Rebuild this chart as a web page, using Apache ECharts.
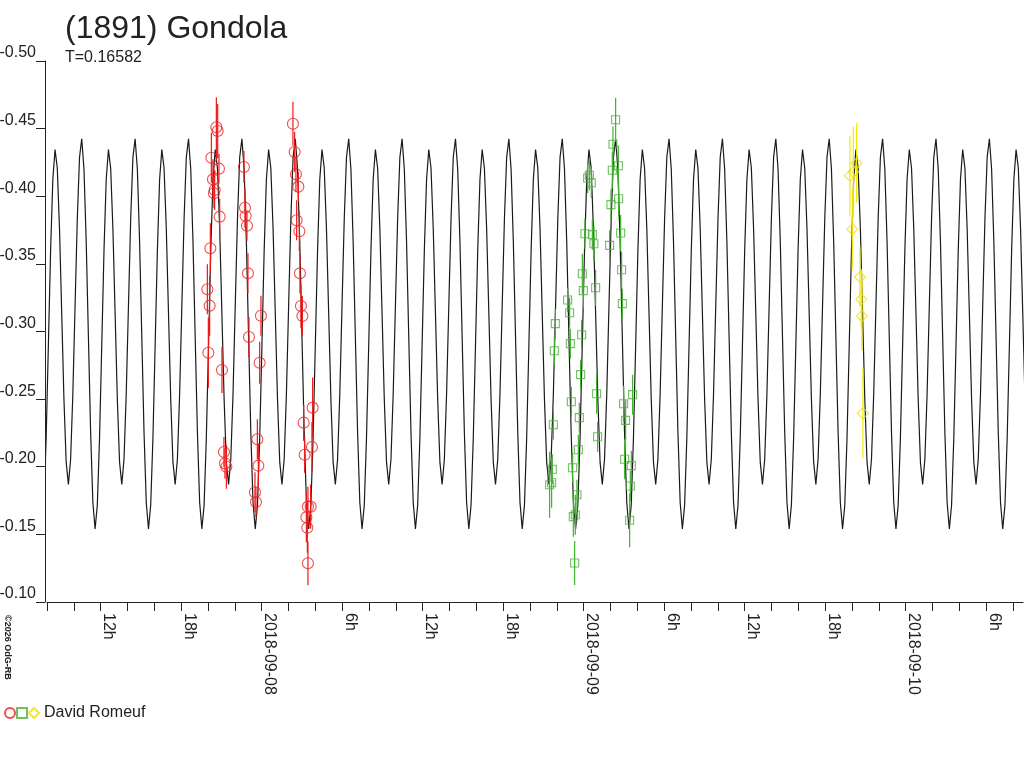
<!DOCTYPE html>
<html>
<head>
<meta charset="utf-8">
<style>
  html, body { margin: 0; padding: 0; background: #fff; }
  #chart { width: 1024px; height: 768px; }
</style>
<script src="https://cdn.jsdelivr.net/npm/echarts@6/dist/echarts.min.js"></script>
</head>
<body>
<div id="chart"></div>
<script>
// ---- data (time in hours since 2018-09-07 00:00 UT, values in mag) ----
const titleText = '(1891) Gondola';
const periodText = 'T=0.16582';
const periodDays = 0.16582;
const peakEpochHour = 8.60;           // time of one model maximum
// one period of the model curve, 24 equally spaced phase samples
const modelShape = [-0.4345, -0.4209, -0.3763, -0.3133, -0.2498, -0.2034, -0.1870, -0.2055,
                    -0.2538, -0.3190, -0.3832, -0.4287, -0.4425, -0.4201, -0.3667, -0.2957,
                    -0.2252, -0.1736, -0.1540, -0.1716, -0.2212, -0.2900, -0.3598, -0.4124];
const dayLabels = ['2018-09-07', '2018-09-08', '2018-09-09', '2018-09-10'];
const xMin = 8, xMax = 80.75, xStep = 2, xLastTick = 80;
const yMin = -0.50, yMax = -0.10, yStep = 0.05;

const redTime = [20.624, 20.721, 20.251, 20.817, 20.370, 20.497, 20.445, 20.870, 20.176, 19.953,
                 20.124, 20.027, 21.041, 21.190, 21.265, 21.369, 22.681, 22.755, 22.807, 22.904,
                 22.979, 23.948, 23.053, 23.851, 23.680, 23.754, 23.501, 23.575, 26.333, 26.460,
                 26.557, 26.735, 26.609, 26.810, 26.855, 26.929, 27.034, 27.801, 27.130, 27.749,
                 27.205, 27.652, 27.451, 27.332, 27.406, 27.451];
const redMag  = [-0.4510, -0.4482, -0.4285, -0.4204, -0.4125, -0.4046, -0.4022, -0.3849, -0.3615, -0.3312,
                 -0.3191, -0.2843, -0.2715, -0.2109, -0.2025, -0.2000, -0.4216, -0.3915, -0.3854, -0.3782,
                 -0.3430, -0.3117, -0.2959, -0.2769, -0.2203, -0.2008, -0.1811, -0.1739, -0.4536, -0.4327,
                 -0.4162, -0.4071, -0.3822, -0.3741, -0.3430, -0.3189, -0.3115, -0.2437, -0.2326, -0.2146,
                 -0.2089, -0.1705, -0.1705, -0.1626, -0.1549, -0.1286];
const redErr  = [0.0222, 0.0200, 0.0185, 0.0111, 0.0148, 0.0148, 0.0111, 0.0133, 0.0185, 0.0185,
                 0.0222, 0.0259, 0.0170, 0.0111, 0.0111, 0.0163, 0.0118, 0.0148, 0.0111, 0.0111,
                 0.0148, 0.0148, 0.0148, 0.0155, 0.0148, 0.0163, 0.0148, 0.0111, 0.0163, 0.0148,
                 0.0133, 0.0111, 0.0148, 0.0148, 0.0148, 0.0163, 0.0148, 0.0222, 0.0133, 0.0185,
                 0.0133, 0.0163, 0.0148, 0.0185, 0.0185, 0.0163];

const greenTime = [50.385, 50.184, 50.586, 50.139, 48.574, 48.298, 50.609, 50.035, 48.097, 48.649,
                   48.768, 49.938, 50.758, 47.903, 50.832, 47.977, 48.894, 46.807, 46.956, 50.884,
                   45.891, 47.851, 45.816, 47.008, 47.776, 48.969, 47.083, 50.981, 51.652, 47.679,
                   45.742, 51.130, 49.043, 47.605, 45.667, 47.180, 51.056, 51.555, 45.466, 51.481,
                   47.500, 47.381, 47.232, 51.429, 47.329, 48.425, 45.615];
const greenMag  = [-0.4566, -0.4384, -0.4226, -0.4192, -0.4100, -0.4135, -0.3982, -0.3938, -0.3723, -0.3716,
                   -0.3649, -0.3637, -0.3728, -0.3427, -0.3457, -0.3302, -0.3324, -0.3233, -0.3139, -0.3206,
                   -0.3058, -0.2976, -0.2858, -0.2910, -0.2681, -0.2540, -0.2481, -0.2466, -0.2533, -0.2363,
                   -0.2311, -0.2343, -0.2222, -0.2126, -0.1981, -0.1993, -0.2055, -0.2008, -0.1867, -0.1858,
                   -0.1793, -0.1645, -0.1631, -0.1604, -0.1288, -0.4155, -0.1882];
const greenErr  = [0.0163, 0.0133, 0.0148, 0.0133, 0.0111, 0.0111, 0.0133, 0.0111, 0.0111, 0.0111,
                   0.0133, 0.0111, 0.0133, 0.0148, 0.0133, 0.0133, 0.0133, 0.0089, 0.0111, 0.0111,
                   0.0111, 0.0111, 0.0111, 0.0111, 0.0111, 0.0148, 0.0111, 0.0133, 0.0148, 0.0111,
                   0.0111, 0.0148, 0.0111, 0.0111, 0.0111, 0.0111, 0.0148, 0.0111, 0.0244, 0.0111,
                   0.0111, 0.0148, 0.0148, 0.0200, 0.0163, 0.0111, 0.0185];

const yellowTime = [68.348, 68.102, 67.849, 68.027, 68.594, 68.698, 68.743, 68.818];
const yellowMag  = [-0.4244, -0.4179, -0.4152, -0.3756, -0.3403, -0.3238, -0.3115, -0.2395];
const yellowErr  = [0.0296, 0.0333, 0.0296, 0.0296, 0.0222, 0.0222, 0.0259, 0.0333];

const observer = 'David Romeuf';
const copyrightText = '©2026 OdG-RB';

// ---- build ----
const periodHours = periodDays * 24;
const modelData = [];
for (let n = -3; n < 22; n++) {
  for (let k = 0; k < modelShape.length; k++) {
    const h = peakEpochHour + (n + k / modelShape.length) * periodHours;
    if (h >= xMin - 1 && h <= xMax + 1) modelData.push([h, modelShape[k]]);
  }
}
const xTicks = [];
for (let v = xMin; v <= xLastTick; v += xStep) xTicks.push(v);

function zip(t, m, e) { return t.map((v, i) => [v, m[i], e[i]]); }
const FONT = '"Liberation Sans", Arial, Helvetica, sans-serif';
const TXT = '#222';

function errSeries(data, color) {
  return {
    type: 'custom',
    silent: true,
    z: 3,
    encode: { x: 0, y: 1 },
    data: data,
    renderItem: function (params, api) {
      const x = api.value(0), y = api.value(1), e = api.value(2);
      const p1 = api.coord([x, y - e]);
      const p2 = api.coord([x, y + e]);
      return { type: 'line', shape: { x1: p1[0], y1: p1[1], x2: p2[0], y2: p2[1] },
               style: { stroke: color, lineWidth: 1.2 } };
    }
  };
}
function ptSeries(name, data, color, symbol, size) {
  return {
    name: name, type: 'scatter', symbol: symbol, symbolSize: size, z: 4, silent: true,
    data: data.map(d => [d[0], d[1]]),
    itemStyle: { color: 'rgba(0,0,0,0)', borderColor: color, borderWidth: 1.1 }
  };
}

const redData = zip(redTime, redMag, redErr);
const greenData = zip(greenTime, greenMag, greenErr);
const yellowData = zip(yellowTime, yellowMag, yellowErr);

const chart = echarts.init(document.getElementById('chart'), null, { renderer: 'canvas' });
chart.setOption({
  animation: false,
  backgroundColor: '#fff',
  textStyle: { fontFamily: FONT },
  title: [
    { text: titleText, left: 65, top: 13, padding: 0,
      textStyle: { fontFamily: FONT, fontSize: 32, fontWeight: 'normal', color: TXT } },
    { text: periodText, left: 65, top: 50, padding: 0,
      textStyle: { fontFamily: FONT, fontSize: 16, fontWeight: 'normal', color: TXT } }
  ],
  legend: {
    left: 4, top: 705, padding: 0,
    itemWidth: 10, itemHeight: 10, itemGap: 0,
    data: ['r', 'g', observer],
    formatter: function (n) { return n === observer ? n : ''; },
    textStyle: { fontFamily: FONT, fontSize: 16, color: TXT },
    selectedMode: false
  },
  graphic: [
    { type: 'text', x: 3, y: 615, rotation: -Math.PI / 2,
      style: { text: copyrightText, font: 'bold 9px ' + FONT, fill: TXT,
               align: 'left', verticalAlign: 'bottom' } }
  ],
  grid: { left: 47, right: 1, top: 61, bottom: 166, containLabel: false, outerBoundsMode: 'none' },
  xAxis: {
    type: 'value', min: xMin, max: xMax, interval: xStep,
    axisLine: { show: true, lineStyle: { color: TXT, width: 1 } },
    axisTick: { show: true, length: 9, lineStyle: { color: TXT }, customValues: xTicks },
    splitLine: { show: false },
    axisLabel: {
      rotate: -90, margin: 11, fontFamily: FONT, fontSize: 16, color: TXT,
      verticalAlign: 'bottom',
      formatter: function (v) {
        if (Math.abs(v % 6) > 1e-6) return '';
        const hr = Math.round(v) % 24;
        if (hr === 0) return dayLabels[Math.round(v / 24)];
        return hr + 'h';
      }
    }
  },
  yAxis: {
    type: 'value', min: yMin, max: yMax, interval: yStep, inverse: true, offset: 2,
    axisLine: { show: true, lineStyle: { color: TXT, width: 1 } },
    axisTick: { show: true, length: 9, lineStyle: { color: TXT } },
    splitLine: { show: false },
    axisLabel: {
      margin: 9, fontFamily: FONT, fontSize: 16, color: TXT, verticalAlign: 'bottom',
      formatter: function (v) { return v.toFixed(2); }
    }
  },
  series: [
    { type: 'line', data: modelData, showSymbol: false, silent: true, z: 2,
      lineStyle: { color: '#1a1a1a', width: 1.2 } },
    errSeries(redData, '#f01818'),
    errSeries(greenData, '#3db52a'),
    errSeries(yellowData, '#f5ea00'),
    ptSeries('r', redData, '#ee2020', 'circle', 11),
    ptSeries('g', greenData, '#4caf3a', 'rect', 8),
    ptSeries(observer, yellowData, '#efe000', 'diamond', 11)
  ]
});
</script>
</body>
</html>
